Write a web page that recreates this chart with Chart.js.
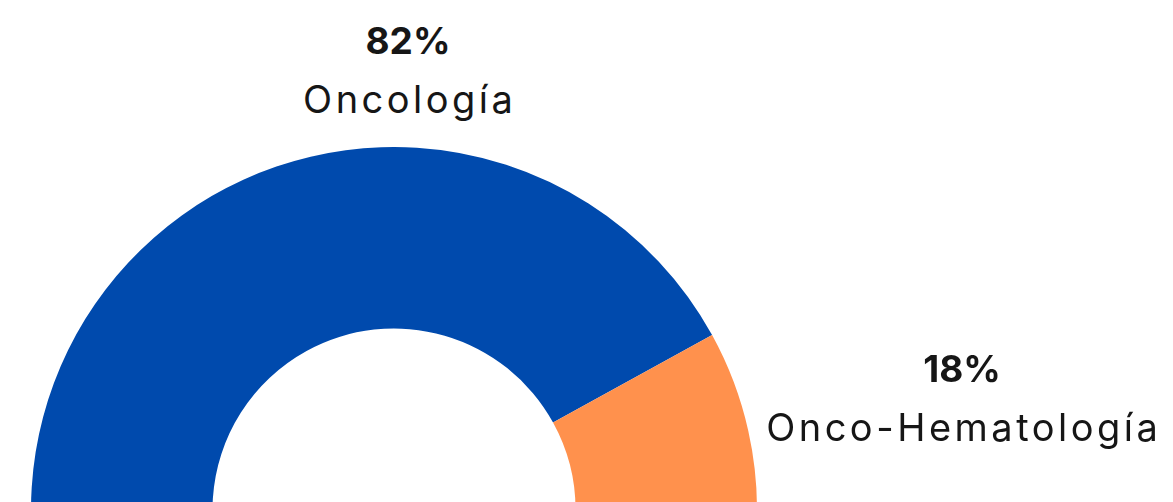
<!DOCTYPE html>
<html lang="es">
<head>
  <meta charset="UTF-8">
  <title>Oncología vs Onco-Hematología</title>
  <script src="https://cdn.jsdelivr.net/npm/chart.js"></script>
  <style>
    html, body { margin: 0; padding: 0; background: #fff; overflow: hidden; }
    body { width: 1173px; height: 502px; position: relative; font-family: 'Inter', 'DejaVu Sans', sans-serif; color: #161616; }
    #wrap { position: absolute; left: 31px; top: 147px; width: 726px; height: 726px; }
    .lbl { position: absolute; width: 500px; text-align: center; white-space: nowrap; }
    .pct { font-size: 37px; font-weight: 700; line-height: 37px; }
    .name { font-size: 38px; font-weight: 400; line-height: 38px; letter-spacing: 3.5px; padding-left: 3.5px; box-sizing: border-box; }
  </style>
</head>
<body>
  <div id="wrap"><canvas id="donut" width="726" height="726"></canvas></div>
  <div id="labels"></div>
  <script>
    const categories = ['Oncología', 'Onco-Hematología'];
    const shares = [82, 18];
    const colors = ['#004aad', '#ff914d'];

    // where each label block sits (centre x, top of percent line)
    const labelSpots = [
      { x: 408, y: 22 },
      { x: 962, y: 350 }
    ];

    const box = document.getElementById('labels');
    categories.forEach((name, i) => {
      const p = document.createElement('div');
      p.className = 'lbl pct';
      p.style.left = (labelSpots[i].x - 250) + 'px';
      p.style.top = labelSpots[i].y + 'px';
      p.textContent = shares[i] + '%';
      box.appendChild(p);
      const n = document.createElement('div');
      n.className = 'lbl name';
      n.style.left = (labelSpots[i].x - 250) + 'px';
      n.style.top = (labelSpots[i].y + 58) + 'px';
      n.textContent = name;
      box.appendChild(n);
    });

    new Chart(document.getElementById('donut'), {
      type: 'doughnut',
      data: {
        labels: categories,
        datasets: [{
          data: shares,
          backgroundColor: colors,
          borderWidth: 0
        }]
      },
      options: {
        responsive: false,
        animation: false,
        cutout: '50%',
        rotation: 126,
        plugins: { legend: { display: false }, tooltip: { enabled: false } }
      }
    });
  </script>
</body>
</html>
